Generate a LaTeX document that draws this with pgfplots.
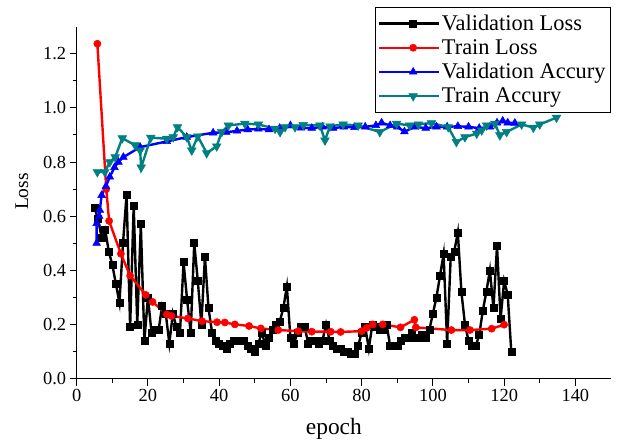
\documentclass[border=0pt]{standalone}
\usepackage{fontspec}
\setmainfont{Liberation Serif}
\usepackage{pgfplots}
\pgfplotsset{compat=1.18}
\definecolor{vteal}{RGB}{0,128,128}

\begin{document}
\begin{tikzpicture}
\begin{axis}[
  name=ax,
  scale only axis,
  width=534.3bp, height=351.8bp,
  xmin=0, xmax=150, ymin=0, ymax=1.3,
  axis lines=left,
  axis line style={-, line width=1bp},
  tick align=outside,
  xtick={0,20,...,140}, minor x tick num=1,
  ytick={0,0.2,...,1.2}, minor y tick num=1,
  major tick length=7bp, minor tick length=4bp,
  tick style={line width=1bp, black},
  yticklabel style={/pgf/number format/fixed, /pgf/number format/fixed zerofill, /pgf/number format/precision=1},
  /pgf/number format/assume math mode=true,
  tick label style={font=\fontsize{18.5}{20}\selectfont},
  xlabel={epoch}, ylabel={Loss},
  xlabel style={font=\fontsize{23.5}{25}\selectfont, xshift=-10bp, yshift=-10bp},
  ylabel style={font=\fontsize{19.5}{21}\selectfont, yshift=8bp, xshift=11bp},
  legend style={at={(1,1.057)}, anchor=north east, draw=black, line width=0.8bp,
    font=\fontsize{22.5}{24}\selectfont, row sep=3.5bp, inner xsep=3bp, inner ysep=6bp,
    nodes={inner sep=2bp}},
  legend cell align=left,
  legend image code/.code={
    \path (0cm,0cm) -- (0.3cm,0cm);
    \draw[mark repeat=2, mark phase=2] plot coordinates {(0.3cm,0cm) (1.2cm,0cm) (2.1cm,0cm)};},
  clip=false,
]
% validation loss
\addplot[black, line width=2.4bp, mark=square*, mark size=3.5bp, mark options={line width=0.5bp}] coordinates {
(5,0.63) (6,0.59) (7,0.52) (8,0.55) (9,0.47) (10,0.42) (11,0.35) (12,0.28) (13,0.50) (14,0.68)
(15,0.19) (16,0.64) (17,0.20) (18,0.57) (19,0.14) (20,0.30) (21,0.17) (22,0.18) (23,0.18) (24,0.27)
(25,0.24) (26,0.13) (27,0.24) (28,0.19) (29,0.17) (30,0.43) (31,0.29) (32,0.17) (33,0.50) (34,0.36)
(35,0.20) (36,0.45) (37,0.26) (38,0.17) (39,0.14) (40,0.13) (41,0.12) (42,0.11) (43,0.13) (44,0.14)
(45,0.14) (46,0.14) (47,0.14) (48,0.12) (49,0.11) (50,0.10) (51,0.13) (52,0.17) (53,0.12) (54,0.15)
(55,0.18) (56,0.20) (57,0.21) (58,0.26) (59,0.34) (60,0.15) (61,0.13) (62,0.17) (63,0.19) (64,0.19)
(65,0.13) (66,0.14) (67,0.14) (68,0.13) (69,0.14) (70,0.20) (71,0.14) (72,0.12) (73,0.11) (74,0.11)
(75,0.10) (76,0.10) (77,0.09) (78,0.09) (79,0.12) (80,0.17) (81,0.19) (82,0.11) (83,0.20) (84,0.19)
(85,0.18) (86,0.18) (87,0.20) (88,0.12) (89,0.12) (90,0.12) (91,0.14) (92,0.15) (93,0.15) (94,0.17)
(95,0.15) (96,0.15) (97,0.16) (98,0.15) (99,0.18) (100,0.24) (101,0.30) (102,0.38) (103,0.46) (104,0.13)
(105,0.45) (106,0.47) (107,0.54) (108,0.32) (109,0.20) (110,0.14) (111,0.12) (112,0.12) (113,0.16) (114,0.25)
(115,0.32) (116,0.40) (117,0.26) (118,0.49) (119,0.22) (120,0.36) (121,0.31) (122,0.10)
};
\addlegendentry{Validation Loss}
% train loss
\addplot[red, line width=2.4bp, mark=*, mark size=3.6bp, mark options={line width=0.5bp}] coordinates {
(5.8,1.237) (8.3,0.70) (9.1,0.582) (12.4,0.461) (15.0,0.38) (19.4,0.309) (21.3,0.283) (25.3,0.237)
(26.6,0.231) (31.2,0.222) (35.2,0.212) (39.4,0.208) (41.6,0.207) (44.4,0.200) (48.4,0.194) (51.7,0.185)
(56.6,0.179) (62.2,0.175) (66.0,0.173) (71.3,0.173) (74.1,0.172) (80.0,0.175) (81.4,0.187) (83.1,0.200)
(85.9,0.200) (90.9,0.189) (94.8,0.217) (95.2,0.189) (105.2,0.179) (110.4,0.179) (116.5,0.184) (120.0,0.199)
};
\addlegendentry{Train Loss}
% validation accuracy
\addplot[blue, line width=2.4bp, mark=triangle*, mark size=4.5bp, mark options={line width=0.5bp}] coordinates {
(5.6,0.50) (5.6,0.573) (6.3,0.60) (6.5,0.622) (7.0,0.677) (8.2,0.71) (9.3,0.745) (10.6,0.78)
(11.7,0.80) (13.1,0.818) (17.8,0.855) (25.3,0.876) (30.9,0.892) (38.3,0.908) (42,0.910) (45,0.915)
(48,0.920) (51,0.922) (54,0.920) (57,0.925) (60,0.935) (63,0.926) (66,0.925) (69,0.930)
(72,0.925) (75,0.930) (78,0.928) (81,0.930) (84,0.935) (85.6,0.945) (88,0.935) (90,0.930)
(92,0.912) (95,0.930) (98,0.925) (101,0.930) (104,0.930) (107,0.932) (110,0.930) (113,0.925)
(116,0.930) (118,0.945) (119.6,0.952) (121,0.945) (123,0.944)
};
\addlegendentry{Validation Accury}
% train accuracy
\addplot[vteal, line width=2.4bp, mark=triangle*, mark size=5bp, mark options={rotate=180, line width=0.5bp}] coordinates {
(5.8,0.763) (7.9,0.763) (9.3,0.80) (10.8,0.818) (12.8,0.888) (16.4,0.862) (17.8,0.843) (18.1,0.78)
(20.8,0.89) (25.3,0.886) (27.1,0.892) (28.3,0.929) (30.9,0.892) (32.3,0.843) (34.0,0.895) (36.5,0.833)
(39.3,0.858) (40.7,0.911) (42.6,0.935) (47.2,0.942) (51.0,0.939) (55.7,0.923) (57.1,0.911) (58.5,0.929)
(61.3,0.929) (63.6,0.937) (68.3,0.935) (69.7,0.880) (71.1,0.932) (74.8,0.939) (79.0,0.935) (85.1,0.911)
(89.8,0.942) (93.5,0.935) (95.9,0.939) (99.6,0.944) (104.3,0.929) (106.6,0.874) (109.0,0.892) (112.3,0.905)
(113.7,0.917) (115.1,0.935) (117.4,0.942) (118.8,0.899) (120.7,0.911) (124.9,0.939) (128.2,0.927) (130.0,0.939)
(134.7,0.964)
};
\addlegendentry{Train Accury}
\end{axis}
\pgfresetboundingbox
\path[use as bounding box] ([xshift=-76.7bp,yshift=-66.5bp]ax.south west) rectangle ([xshift=9bp,yshift=26.7bp]ax.north east);
\end{tikzpicture}
\end{document}
